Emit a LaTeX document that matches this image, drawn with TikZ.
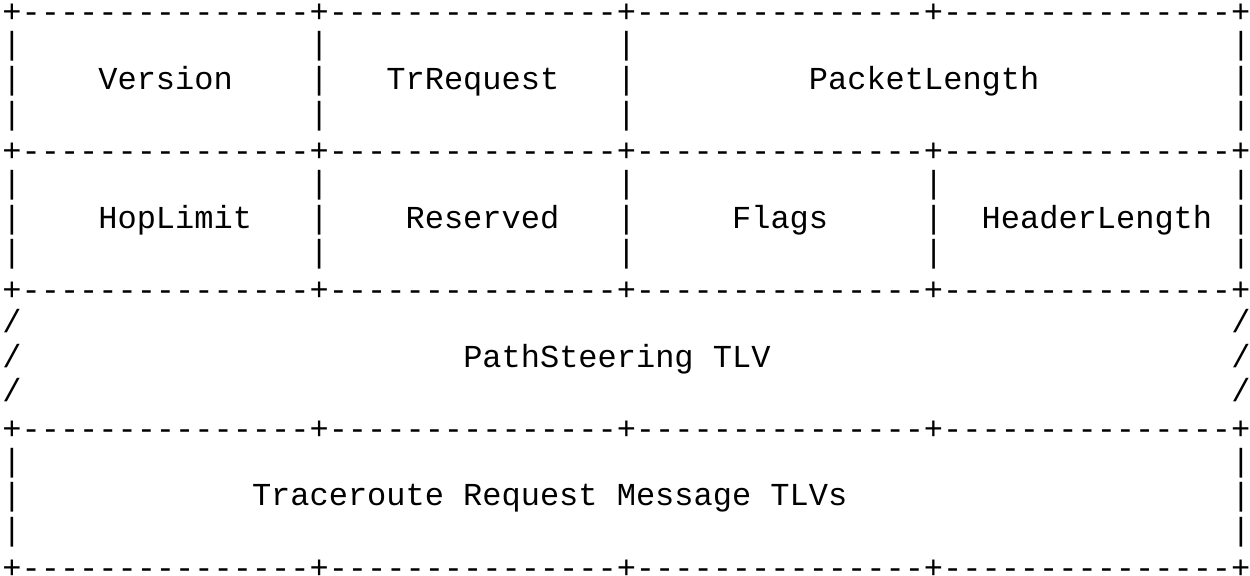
\documentclass[tikz,border=0pt]{standalone}
\usepackage{fontspec}
\setmonofont{Liberation Mono}
\usetikzlibrary{positioning}

\newcommand\blank[1]{\hspace*{#1\fontdimen2\font}}
\newcommand\border{+---------------+---------------+---------------+---------------+}
\newcommand\cellsA{|\blank{15}|\blank{15}|\blank{31}|}
\newcommand\cellsB{|\blank{15}|\blank{15}|\blank{15}|\blank{15}|}
\newcommand\slashes{/\blank{63}/}
\newcommand\wide{|\blank{63}|}

\tikzset{
    asciirow/.style = {anchor=base west, inner sep=0pt, outer sep=0pt, text=black,
                       font=\ttfamily\fontsize{16}{17.4}\selectfont},
}

\begin{document}
\begin{tikzpicture}[x=0.5pt, y=-0.5pt]
  \useasboundingbox (0,0) rectangle (1250,575);

  % border rows sit a little lower
  \foreach \row [count=\i from 0] in {
      \border,
      \cellsA,
      |\blank{4}Version\blank{4}|\blank{3}TrRequest\blank{3}|\blank{9}PacketLength\blank{10}|,
      \cellsA,
      \border,
      \cellsB,
      |\blank{4}HopLimit\blank{3}|\blank{4}Reserved\blank{3}|\blank{5}Flags\blank{5}|\blank{2}HeaderLength\blank{1}|,
      \cellsB,
      \border,
      \slashes,
      /\blank{23}PathSteering TLV\blank{24}/,
      \slashes,
      \border,
      \wide,
      |\blank{12}Traceroute Request Message TLVs\blank{20}|,
      \wide,
      \border}
    \node[asciirow] (row\i) at (2.4, {20+34.7*\i+2.8*(mod(\i,4)==0)}) {\row};

\end{tikzpicture}
\end{document}
